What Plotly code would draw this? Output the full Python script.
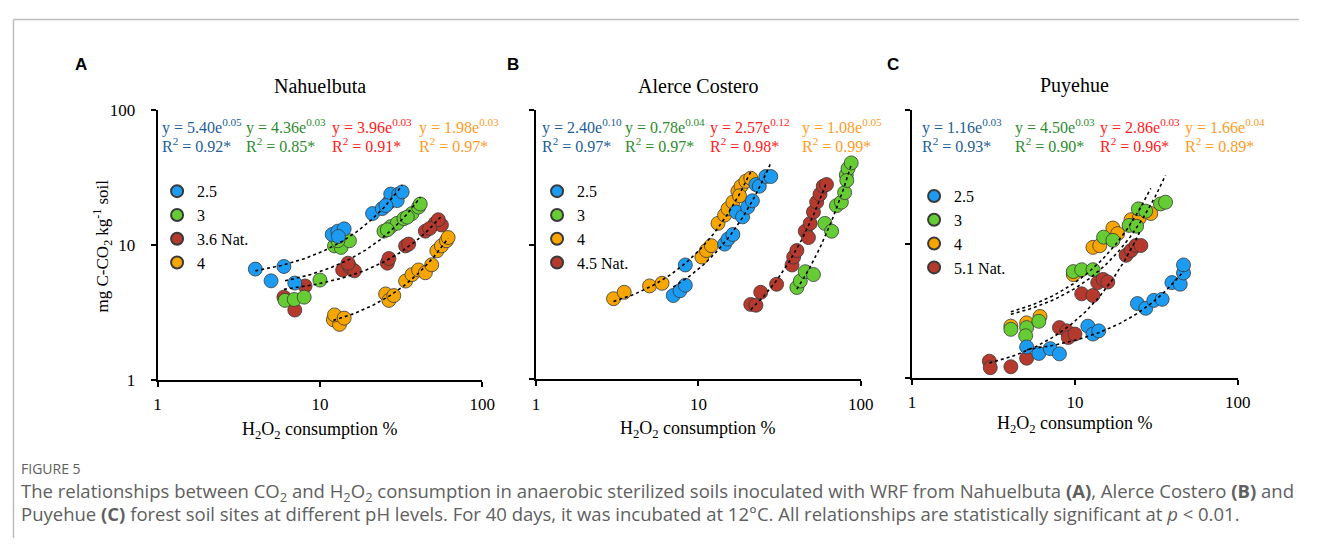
import numpy as np
import plotly.graph_objects as go

# page is 1320x556; the html body adds an 8px margin, so the figure is 16px smaller
W, H = 1304, 540
OFF = 8

# ---------------- data ----------------
panel_titles = ["Nahuelbuta", "Alerce Costero", "Puyehue"]
panel_letters = ["A", "B", "C"]
tick_vals = [1, 10, 100]
tick_text = ["1", "10", "100"]

# Panel A (Nahuelbuta)
a_labels = ["2.5", "3", "3.6 Nat.", "4"]
a_blue_x = [4.0, 5.0, 6.0, 7.0, 11.9, 12.9, 14.1, 13.0, 21.1, 24.2, 26.6, 27.3, 30.6, 29.9, 32.1, 25.5]
a_blue_y = [6.6, 5.4, 6.9, 5.2, 11.9, 12.6, 13.1, 11.5, 17.0, 18.5, 20.6, 23.7, 23.7, 21.2, 24.6, 19.5]
a_green_x = [6.1, 6.95, 8.0, 10.0, 12.3, 13.5, 15.2, 12.9, 24.8, 27.3, 29.9, 32.9, 36.9, 40.5, 41.5, 26.0, 34.5]
a_green_y = [3.87, 3.93, 4.09, 5.47, 9.8, 9.55, 10.7, 10.7, 12.6, 13.6, 14.4, 15.6, 17.0, 19.0, 20.0, 12.9, 16.0]
a_red_x = [7.0, 6.0, 8.1, 13.8, 15.2, 16.3, 14.9, 26.0, 26.6, 33.7, 35.2, 44.6, 51.3, 56.0, 53.6, 47.5]
a_red_y = [3.28, 4.09, 4.95, 6.5, 6.9, 6.4, 7.3, 7.3, 7.9, 9.8, 10.1, 12.6, 14.4, 14.0, 15.3, 13.2]
a_orange_x = [12.1, 13.2, 12.3, 14.1, 25.4, 26.6, 28.5, 33.7, 36.9, 40.5, 44.6, 48.8, 52.5, 56.0, 60.1, 61.6]
a_orange_y = [2.78, 2.57, 3.02, 2.86, 4.32, 3.87, 4.2, 5.38, 6.0, 6.5, 6.2, 7.1, 9.0, 9.8, 10.7, 11.3]
a_eq = ["y = 5.40e<sup>0.05</sup>", "y = 4.36e<sup>0.03</sup>", "y = 3.96e<sup>0.03</sup>", "y = 1.98e<sup>0.03</sup>"]
a_r2 = ["R<sup>2</sup> = 0.92*", "R<sup>2</sup> = 0.85*", "R<sup>2</sup> = 0.91*", "R<sup>2</sup> = 0.97*"]

# Panel B (Alerce Costero)
b_labels = ["2.5", "3", "4", "4.5 Nat."]
b_blue_x = [7.0, 7.7, 8.3, 8.3, 14.5, 15.2, 16.3, 17.1, 18.7, 20.1, 21.5, 22.6, 23.7, 26.0, 27.9]
b_blue_y = [4.19, 4.55, 5.0, 7.07, 10.1, 11.0, 11.9, 17.5, 16.1, 19.0, 21.2, 28.0, 27.2, 32.1, 32.1]
b_green_x = [40.4, 42.4, 45.5, 51.1, 60.1, 66.1, 70.8, 75.9, 79.5, 81.4, 83.4, 87.3, 82.0]
b_green_y = [4.81, 5.37, 6.3, 6.0, 14.4, 12.6, 19.5, 20.7, 24.4, 33.0, 36.8, 40.5, 30.0]
b_orange_x = [3.0, 3.49, 5.0, 5.97, 10.5, 11.2, 12.0, 13.2, 14.5, 15.2, 16.3, 17.5, 18.3, 19.6, 21.0, 17.9]
b_orange_y = [3.97, 4.43, 4.94, 5.17, 8.1, 9.05, 9.84, 14.4, 16.6, 18.5, 20.7, 25.0, 27.2, 29.6, 31.2, 23.1]
b_red_x = [21.0, 22.6, 24.2, 30.3, 37.7, 38.6, 40.4, 45.5, 47.6, 48.8, 51.1, 53.5, 56.1, 58.7, 61.5]
b_red_y = [3.6, 3.55, 4.43, 5.08, 7.07, 8.1, 9.05, 12.6, 11.3, 14.4, 17.5, 20.7, 23.7, 27.2, 28.0]
b_eq = ["y = 2.40e<sup>0.10</sup>", "y = 0.78e<sup>0.04</sup>", "y = 2.57e<sup>0.12</sup>", "y = 1.08e<sup>0.05</sup>"]
b_r2 = ["R<sup>2</sup> = 0.97*", "R<sup>2</sup> = 0.97*", "R<sup>2</sup> = 0.98*", "R<sup>2</sup> = 0.99*"]

# Panel C (Puyehue)
c_labels = ["2.5", "3", "4", "5.1 Nat."]
c_blue_x = [5.05, 6.0, 7.05, 8.03, 12.0, 12.9, 14.0, 24.2, 27.2, 30.5, 34.3, 39.4, 44.3, 46.4, 46.4]
c_blue_y = [1.70, 1.52, 1.65, 1.51, 2.43, 2.12, 2.24, 3.58, 3.3, 3.78, 3.85, 5.13, 4.99, 6.05, 6.95]
c_green_x = [4.04, 5.05, 4.98, 6.0, 9.77, 11.0, 12.9, 15.0, 17.1, 21.5, 23.9, 24.5, 27.2, 33.5, 36.0]
c_green_y = [2.30, 2.37, 2.06, 2.64, 6.2, 6.4, 6.4, 11.2, 10.6, 13.7, 13.5, 18.2, 17.5, 19.8, 20.4]
c_orange_x = [4.04, 5.05, 6.1, 9.77, 12.9, 14.2, 17.1, 18.3, 22.1, 24.8, 29.2]
c_orange_y = [2.43, 2.57, 2.87, 5.89, 9.4, 9.67, 13.1, 11.9, 15.1, 15.5, 16.8]
c_red_x = [2.98, 3.02, 4.04, 5.05, 8.03, 8.9, 9.1, 10.0, 11.0, 12.9, 13.8, 14.9, 15.9, 20.6, 22.1, 23.7, 25.4]
c_red_y = [1.33, 1.19, 1.21, 1.40, 2.37, 2.24, 2.0, 2.12, 4.23, 4.11, 5.13, 5.42, 5.18, 8.2, 8.9, 9.7, 9.7]
c_eq = ["y = 1.16e<sup>0.03</sup>", "y = 4.50e<sup>0.03</sup>", "y = 2.86e<sup>0.03</sup>", "y = 1.66e<sup>0.04</sup>"]
c_r2 = ["R<sup>2</sup> = 0.93*", "R<sup>2</sup> = 0.90*", "R<sup>2</sup> = 0.96*", "R<sup>2</sup> = 0.89*"]

caption_head = "FIGURE 5"
caption_l1 = ("The relationships between CO<sub>2</sub> and H<sub>2</sub>O<sub>2</sub> consumption in anaerobic "
              "sterilized soils inoculated with WRF from Nahuelbuta <b>(A)</b>, Alerce Costero <b>(B)</b> and")
caption_l2 = ("Puyehue <b>(C)</b> forest soil sites at different pH levels. For 40 days, it was incubated at 12°C. "
              "All relationships are statistically significant at <i>p</i> < 0.01.")
y_title = "mg C-CO<sub>2</sub> kg<sup>-1</sup> soil"
x_title = "H<sub>2</sub>O<sub>2</sub> consumption %"

# ---------------- styles ----------------
SERIF = "Liberation Serif, Times New Roman, serif"
MK = {"blue": "#1B9CF2", "green": "#66CC33", "red": "#B53A2D", "orange": "#F7A600"}
TX = {"blue": "#1D5E98", "green": "#2E8B2E", "red": "#FF2020", "orange": "#FF9B1F"}

def px(x):
    return (x - OFF) / W

def py(y):
    return 1 - (y - OFF) / H

panels = [
    dict(series=[("orange", a_orange_x, a_orange_y, a_labels[3], 4),
                 ("red", a_red_x, a_red_y, a_labels[2], 3),
                 ("green", a_green_x, a_green_y, a_labels[1], 2),
                 ("blue", a_blue_x, a_blue_y, a_labels[0], 1)],
         eq=a_eq, r2=a_r2, xdom=(155.5, 484.5), ydom=(384, 104),
         eqx=[158, 243, 330, 418], legx=155, legy=171),
    dict(series=[("orange", b_orange_x, b_orange_y, b_labels[2], 3),
                 ("red", b_red_x, b_red_y, b_labels[3], 4),
                 ("green", b_green_x, b_green_y, b_labels[1], 2),
                 ("blue", b_blue_x, b_blue_y, b_labels[0], 1)],
         eq=b_eq, r2=b_r2, xdom=(539, 868), ydom=(383.5, 104.5),
         eqx=[543, 627, 713, 806], legx=540, legy=171),
    dict(series=[("orange", c_orange_x, c_orange_y, c_labels[2], 3),
                 ("red", c_red_x, c_red_y, c_labels[3], 4),
                 ("green", c_green_x, c_green_y, c_labels[1], 2),
                 ("blue", c_blue_x, c_blue_y, c_labels[0], 1)],
         eq=c_eq, r2=c_r2, xdom=(920, 1250), ydom=(382, 104),
         eqx=[928, 1022, 1108, 1194], legx=922, legy=176),
]
eq_order = ["blue", "green", "red", "orange"]

fig = go.Figure()
annotations = []
layout = {}

for i, p in enumerate(panels):
    n = "" if i == 0 else str(i + 1)
    xa, ya = "x" + n, "y" + n
    leg = "legend" + n
    for col, xs, ys, lab, rank in p["series"]:
        fig.add_trace(go.Scatter(
            x=xs, y=ys, mode="markers", name=lab, xaxis=xa, yaxis=ya,
            legend=leg, legendrank=rank,
            marker=dict(size=14, color=MK[col], line=dict(color="#3a3a3a", width=0.8)),
        ))
    # exponential trendlines fitted to the data
    for col, xs, ys, lab, rank in p["series"]:
        xs_a = np.array(xs, dtype=float)
        b, lna = np.polyfit(xs_a, np.log(np.array(ys, dtype=float)), 1)
        xx = np.linspace(xs_a.min(), xs_a.max(), 80)
        fig.add_trace(go.Scatter(
            x=xx, y=np.exp(lna + b * xx), mode="lines", xaxis=xa, yaxis=ya,
            showlegend=False, hoverinfo="skip",
            line=dict(color="black", width=1.6, dash="dot"),
        ))
    x0, x1 = p["xdom"]
    yb, yt = p["ydom"]
    layout["xaxis" + n] = dict(
        type="log", range=[0, 2], domain=[px(x0), px(x1)], anchor=ya,
        tickvals=tick_vals, ticktext=tick_text, ticks="outside", ticklen=5, tickwidth=1.5,
        tickcolor="black", showline=True, linecolor="black", linewidth=1.8,
        showgrid=False, zeroline=False, tickfont=dict(family=SERIF, size=17, color="black"),
        ticklabelstandoff=3,
    )
    layout["yaxis" + n] = dict(
        type="log", range=[0, 2], domain=[py(yb), py(yt)], anchor=xa,
        tickvals=tick_vals, ticktext=tick_text, ticks="outside", ticklen=5, tickwidth=1.5,
        tickcolor="black", showline=True, linecolor="black", linewidth=1.8,
        showgrid=False, zeroline=False, showticklabels=(i == 0),
        tickfont=dict(family=SERIF, size=17, color="black"), ticklabelstandoff=12,
    )
    layout[leg] = dict(
        x=px(p["legx"]), y=py(p["legy"]), xanchor="left", yanchor="top",
        xref="paper", yref="paper", bgcolor="rgba(0,0,0,0)", itemsizing="constant",
        traceorder="normal", font=dict(family=SERIF, size=16, color="black"),
        tracegroupgap=0,
    )
    annotations.append(dict(x=px((x0 + x1) / 2), y=py(79), text=panel_titles[i], showarrow=False,
                            xref="paper", yref="paper", xanchor="center", yanchor="middle",
                            font=dict(family=SERIF, size=20, color="black")))
    annotations.append(dict(x=px([70, 508, 893][i]), y=py(57), text="<b>%s</b>" % panel_letters[i],
                            showarrow=False, xref="paper", yref="paper", xanchor="left", yanchor="middle",
                            font=dict(family="Liberation Sans, Arial, sans-serif", size=17, color="black")))
    for k, col in enumerate(eq_order):
        annotations.append(dict(x=px(p["eqx"][k]), y=py(122), text=p["eq"][k], showarrow=False,
                                xref="paper", yref="paper", xanchor="left", yanchor="middle",
                                font=dict(family=SERIF, size=16, color=TX[col])))
        annotations.append(dict(x=px(p["eqx"][k]), y=py(141), text=p["r2"][k], showarrow=False,
                                xref="paper", yref="paper", xanchor="left", yanchor="middle",
                                font=dict(family=SERIF, size=16, color=TX[col])))
    annotations.append(dict(x=px((x0 + x1) / 2), y=py([437, 436, 430][i]), text=x_title, showarrow=False,
                            xref="paper", yref="paper", xanchor="center", yanchor="middle",
                            font=dict(family=SERIF, size=18, color="black")))

annotations.append(dict(x=px(100), y=py(245), text=y_title, textangle=-90, showarrow=False,
                        xref="paper", yref="paper", xanchor="center", yanchor="middle",
                        font=dict(family=SERIF, size=17, color="black")))

CAP = "Open Sans, Lato, sans-serif"
annotations.append(dict(x=px(15), y=py(476), text=caption_head, showarrow=False, xref="paper", yref="paper",
                        xanchor="left", yanchor="middle", font=dict(family=CAP, size=14, color="#606060")))
annotations.append(dict(x=px(15), y=py(500), text=caption_l1, showarrow=False, xref="paper", yref="paper",
                        xanchor="left", yanchor="middle", font=dict(family=CAP, size=18.5, color="#606060")))
annotations.append(dict(x=px(15), y=py(523), text=caption_l2, showarrow=False, xref="paper", yref="paper",
                        xanchor="left", yanchor="middle", font=dict(family=CAP, size=18.5, color="#606060")))

shapes = [
    dict(type="line", xref="paper", yref="paper", x0=px(9.5), x1=1.0, y0=py(10.5), y1=py(10.5),
         line=dict(color="#BDBDBD", width=1.5)),
    dict(type="line", xref="paper", yref="paper", x0=px(9.5), x1=px(9.5), y0=py(10.5), y1=0,
         line=dict(color="#BDBDBD", width=1.5)),
]

fig.update_layout(
    width=W, height=H, margin=dict(l=0, r=0, t=0, b=0),
    paper_bgcolor="white", plot_bgcolor="rgba(0,0,0,0)",
    annotations=annotations, shapes=shapes, **layout,
)

fig.write_html("out.html", config={"displayModeBar": False})
